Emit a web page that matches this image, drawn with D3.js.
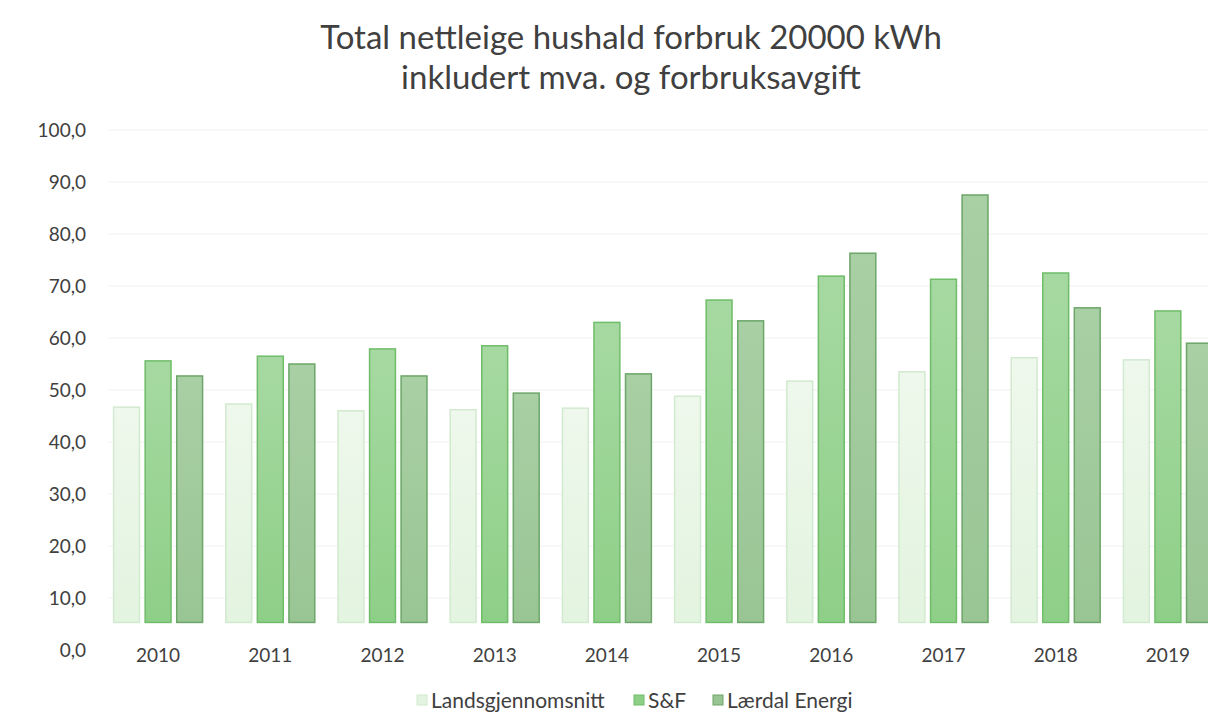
<!DOCTYPE html>
<html>
<head>
<meta charset="utf-8">
<script src="https://cdn.jsdelivr.net/npm/d3@7"></script>
<style>
  html, body { margin: 0; padding: 0; background: #ffffff; }
  svg { display: block; }
  text { font-family: Lato, "Open Sans", sans-serif; fill: #404040; }
</style>
</head>
<body>
<svg id="chart" width="1208" height="712"></svg>
<script>
// ---- data ----
const years = ["2010","2011","2012","2013","2014","2015","2016","2017","2018","2019"];
const seriesNames = ["Landsgjennomsnitt", "S&F", "Lærdal Energi"];
const landsgjennomsnitt = [46.7, 47.3, 46.0, 46.2, 46.5, 48.8, 51.7, 53.5, 56.2, 55.8];
const sogOgFjordane     = [55.6, 56.5, 57.9, 58.5, 63.0, 67.3, 71.9, 71.3, 72.5, 65.2];
const laerdalEnergi     = [52.7, 55.0, 52.7, 49.4, 53.1, 63.3, 76.3, 87.5, 65.8, 59.0];
const yTicks = [0, 10, 20, 30, 40, 50, 60, 70, 80, 90, 100];
const barFloor = 5.3; // bars in the original start slightly above the 0,0 line
const titleLines = ["Total nettleige hushald forbruk 20000 kWh", "inkludert mva. og forbruksavgift"];

const seriesValues = [landsgjennomsnitt, sogOgFjordane, laerdalEnergi];
const fills   = ["#e3f4e0", "#8ecf88", "#99c594"];
const fillsTop= ["#eef8ec", "#a6d9a1", "#a9cfa5"];
const strokes = ["#d2eacf", "#6fbd69", "#6ca668"];

const svg = d3.select("#chart");
const defs = svg.append("defs");
seriesNames.forEach((s, i) => {
  const g = defs.append("linearGradient").attr("id", "grad" + i)
    .attr("x1", 0).attr("y1", 0).attr("x2", 0).attr("y2", 1);
  g.append("stop").attr("offset", "0%").attr("stop-color", fillsTop[i]);
  g.append("stop").attr("offset", "100%").attr("stop-color", fills[i]);
});

const y = d3.scaleLinear().domain([0, 100]).range([650, 130]);
const x0 = d3.scaleBand().domain(years).range([102, 1224]).paddingInner(0.207).paddingOuter(0.1035);
const x1 = d3.scaleBand().domain(d3.range(3)).range([0, x0.bandwidth()]).paddingInner(0.18).paddingOuter(0);

// gridlines
svg.append("g").selectAll("line").data(yTicks.filter(d => d > 0)).join("line")
  .attr("x1", 108).attr("x2", 1208)
  .attr("y1", d => y(d)).attr("y2", d => y(d))
  .attr("stroke", "#f1f1f1").attr("stroke-width", 1.2);

// y axis labels
const yAxis = d3.axisLeft(y).tickValues(yTicks)
  .tickFormat(d => d3.format(".1f")(d).replace(".", ",")).tickSize(0).tickPadding(0);
const ya = svg.append("g").attr("transform", "translate(86,0)").call(yAxis);
ya.select(".domain").remove();
ya.selectAll("text").style("font-family", "Lato, sans-serif").style("font-size", "19px").attr("fill", "#404040");

// bars
const groups = svg.append("g").selectAll("g").data(years).join("g")
  .attr("transform", d => `translate(${x0(d)},0)`);
groups.selectAll("rect")
  .data((d, yi) => seriesValues.map((vals, si) => ({ si, v: vals[yi] })))
  .join("rect")
  .attr("x", d => x1(d.si))
  .attr("width", x1.bandwidth())
  .attr("y", d => y(d.v))
  .attr("height", d => y(barFloor) - y(d.v))
  .attr("fill", d => `url(#grad${d.si})`)
  .attr("stroke", d => strokes[d.si])
  .attr("stroke-width", 1.5);

// x axis labels
const xAxis = d3.axisBottom(x0).tickSize(0).tickPadding(0);
const xa = svg.append("g").attr("transform", "translate(0,648)").call(xAxis);
xa.select(".domain").remove();
xa.selectAll("text").attr("dy", "0.71em").style("font-family", "Lato, sans-serif").style("font-size", "19px").attr("fill", "#404040");

// title
svg.append("g").selectAll("text").data(titleLines).join("text")
  .attr("x", 631).attr("y", (d, i) => 49 + i * 40)
  .attr("text-anchor", "middle")
  .style("font-size", "33px")
  .text(d => d);

// legend
const legendX = [417, 634, 713];
const leg = svg.append("g").selectAll("g").data(seriesNames).join("g")
  .attr("transform", (d, i) => `translate(${legendX[i]},700)`);
leg.append("rect").attr("x", 0).attr("y", -5).attr("width", 10).attr("height", 10)
  .attr("fill", (d, i) => fills[i]).attr("stroke", (d, i) => strokes[i]).attr("stroke-width", 1);
leg.append("text").attr("x", 14).attr("y", 7.5).style("font-size", "21px").text(d => d);
</script>
</body>
</html>
